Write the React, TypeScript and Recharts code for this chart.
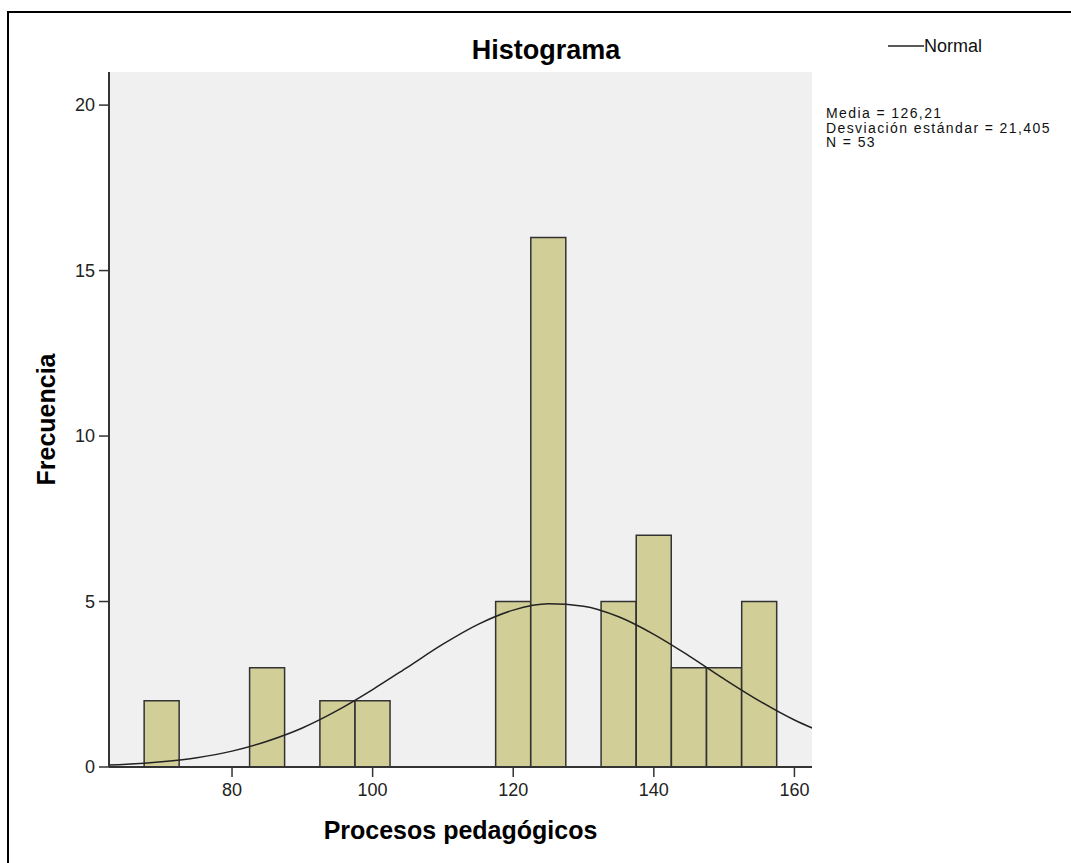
import {
  Bar,
  CartesianGrid,
  ComposedChart,
  Legend,
  Line,
  XAxis,
  YAxis,
} from "recharts";

const FONT = '"Liberation Sans", Arial, sans-serif';

// histogram bins (width 5) and counts
const binCenters = [65, 70, 75, 80, 85, 90, 95, 100, 105, 110, 115, 120, 125, 130, 135, 140, 145, 150, 155, 160];
const frequencies = [0, 2, 0, 0, 3, 0, 2, 2, 0, 0, 0, 5, 16, 0, 5, 7, 3, 3, 5, 0];

// normal curve (ends run past the frame and get clipped)
const curveX = [60, 65, 70, 75, 80, 85, 90, 95, 100, 105, 110, 115, 120, 125, 130, 135, 140, 145, 150, 155, 160, 165];
const curveY = [0.04, 0.08, 0.16, 0.28, 0.48, 0.78, 1.18, 1.71, 2.34, 3.02, 3.71, 4.31, 4.74, 4.93, 4.86, 4.54, 4.01, 3.36, 2.66, 2.0, 1.42, 0.96];

const xTicks = [80, 100, 120, 140, 160];
const yTicks = [0, 5, 10, 15, 20];
const xDomain = [62.5, 162.5];
const yDomain = [0, 21];

const statsLines = ["Media = 126,21", "Desviación estándar = 21,405", "N = 53"];

const histData = binCenters.map((x, i) => ({ x, count: frequencies[i] }));
const curveData = curveX.map((x, i) => ({ x, y: curveY[i] }));

const W = 1071;
const H = 863;
const margin = { top: 72, right: 259, bottom: 20, left: 29 };

const XTitle = (props: any) => {
  const vb = props.viewBox;
  return (
    <text
      x={vb.x + vb.width / 2}
      y={vb.y + 72}
      textAnchor="middle"
      fontFamily={FONT}
      fontSize={25}
      fontWeight="bold"
      fill="#000"
    >
      Procesos pedagógicos
    </text>
  );
};

const YTitle = (props: any) => {
  const vb = props.viewBox;
  const x = vb.x + 26;
  const y = vb.y + vb.height / 2;
  return (
    <text
      x={x}
      y={y}
      transform={`rotate(-90, ${x}, ${y})`}
      textAnchor="middle"
      fontFamily={FONT}
      fontSize={25}
      fontWeight="bold"
      fill="#000"
    >
      Frecuencia
    </text>
  );
};

const LegendBox = ({ payload }: any) => (
  <div style={{ fontFamily: FONT, color: "#111" }}>
    {(payload || [])
      .filter((p: any) => p.type !== "none")
      .map((p: any) => (
        <div
          key={p.value}
          style={{ display: "flex", alignItems: "center", marginLeft: 62, height: 22, fontSize: 18 }}
        >
          <svg width={36} height={4}>
            <line x1={0} y1={2} x2={36} y2={2} stroke={p.color} strokeWidth={1.5} />
          </svg>
          <span>{p.value}</span>
        </div>
      ))}
    <div style={{ marginTop: 49, fontSize: 14, lineHeight: "14.5px", letterSpacing: 1.4 }}>
      {statsLines.map((s) => (
        <div key={s}>{s}</div>
      ))}
    </div>
  </div>
);

const axisLine = { stroke: "#333", strokeWidth: 2 };
const tickLine = { stroke: "#333", strokeWidth: 1.5 };
const tickStyle = { fontSize: 18, fill: "#222", fontFamily: FONT };

export default function App() {
  return (
    <div
      style={{
        position: "fixed",
        left: 0,
        top: 0,
        width: W,
        height: H,
        overflow: "hidden",
        background: "#fff",
      }}
    >
      <div
        style={{
          position: "absolute",
          left: 7,
          top: 11,
          width: 1200,
          height: 1000,
          border: "2px solid #000",
        }}
      />
      <ComposedChart
        width={W}
        height={H}
        data={histData}
        margin={margin}
        barCategoryGap={0}
        barGap={0}
      >
        <CartesianGrid fill="#F0F0F0" horizontal={false} vertical={false} />
        <XAxis
          dataKey="x"
          type="number"
          domain={xDomain}
          ticks={xTicks}
          allowDataOverflow
          height={76}
          axisLine={axisLine}
          tickLine={tickLine}
          tickSize={10}
          tickMargin={6}
          tick={tickStyle}
          label={<XTitle />}
        />
        <XAxis
          xAxisId="top"
          orientation="top"
          dataKey="x"
          type="number"
          domain={xDomain}
          allowDataOverflow
          height={0}
          tick={false}
          tickLine={false}
          axisLine={{ stroke: "#555", strokeWidth: 2 }}
        />
        <YAxis
          type="number"
          domain={yDomain}
          ticks={yTicks}
          allowDataOverflow
          width={80}
          axisLine={axisLine}
          tickLine={tickLine}
          tickSize={10}
          tickMargin={4}
          tick={tickStyle}
          label={<YTitle />}
        />
        <YAxis
          yAxisId="right"
          orientation="right"
          type="number"
          domain={yDomain}
          allowDataOverflow
          width={0}
          tick={false}
          tickLine={false}
          axisLine={{ stroke: "#555", strokeWidth: 1.5 }}
        />
        <Bar
          dataKey="count"
          fill="#D2CE98"
          stroke="#333"
          strokeWidth={1.5}
          legendType="none"
          isAnimationActive={false}
        />
        <Line
          data={curveData}
          dataKey="y"
          name="Normal"
          type="monotone"
          stroke="#222"
          strokeWidth={1.5}
          dot={false}
          activeDot={false}
          legendType="plainline"
          isAnimationActive={false}
        />
        <Legend
          layout="vertical"
          align="center"
          verticalAlign="middle"
          content={<LegendBox />}
          wrapperStyle={{ top: 35, left: 826, width: 245 }}
        />
      </ComposedChart>
      <svg
        width={W}
        height={H}
        style={{ position: "absolute", left: 0, top: 0, pointerEvents: "none" }}
      >
        <text
          x={546}
          y={59}
          textAnchor="middle"
          fontFamily={FONT}
          fontSize={27}
          fontWeight="bold"
          fill="#000"
        >
          Histograma
        </text>
      </svg>
    </div>
  );
}
